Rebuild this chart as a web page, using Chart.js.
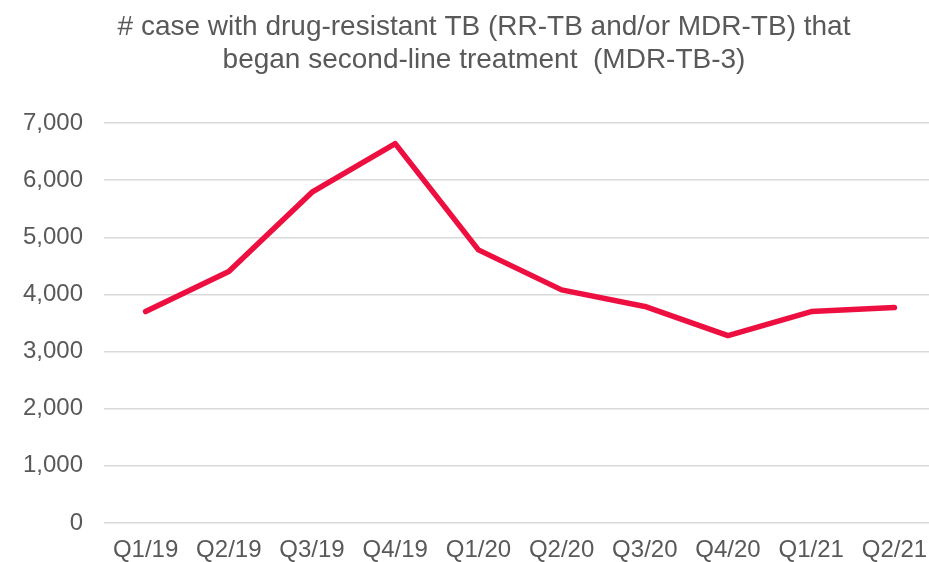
<!DOCTYPE html>
<html>
<head>
<meta charset="utf-8">
<script src="https://cdn.jsdelivr.net/npm/chart.js@4/dist/chart.umd.min.js"></script>
<style>
    html, body { margin: 0; padding: 0; background: #fff; overflow: hidden; }
    #wrap { width: 929px; height: 562px; overflow: hidden; }
</style>
</head>
<body>
<div id="wrap"><canvas id="chart" width="972" height="562"></canvas></div>
<script>
const quarters = ['Q1/19', 'Q2/19', 'Q3/19', 'Q4/19', 'Q1/20', 'Q2/20', 'Q3/20', 'Q4/20', 'Q1/21', 'Q2/21'];
const mdrCases = [3700, 4400, 5790, 6640, 4780, 4080, 3790, 3280, 3700, 3770];
const titleLines = ['# case with drug-resistant TB (RR-TB and/or MDR-TB) that', 'began second-line treatment  (MDR-TB-3)'];

const textColor = '#595959';
const fontFamily = '"Liberation Sans", Arial, sans-serif';

// title sits a bit right of the canvas centre in the original, so draw it by hand
const titlePlugin = {
    id: 'offsetTitle',
    afterDraw(chart) {
        const ctx = chart.ctx;
        ctx.save();
        ctx.fillStyle = textColor;
        ctx.font = `28px ${fontFamily}`;
        ctx.textAlign = 'center';
        ctx.textBaseline = 'middle';
        titleLines.forEach((line, i) => {
            ctx.fillText(line, 484, 27 + i * 33);
        });
        ctx.restore();
    }
};

new Chart(document.getElementById('chart'), {
    type: 'line',
    data: {
        labels: quarters,
        datasets: [{
            data: mdrCases,
            borderColor: '#EC0F40',
            borderWidth: 5.5,
            pointRadius: 0,
            tension: 0,
            borderCapStyle: 'round',
            borderJoinStyle: 'round'
        }]
    },
    plugins: [titlePlugin],
    options: {
        responsive: false,
        animation: false,
        // chart area runs 104..936, a bit past the window edge like the original
        layout: { padding: { left: 0, right: 36, top: 123, bottom: 0 } },
        plugins: {
            legend: { display: false },
            tooltip: { enabled: false },
            title: { display: false }
        },
        scales: {
            x: {
                offset: true,
                afterFit: (scale) => { scale.height = 39; },
                grid: { display: false },
                border: { display: false },
                ticks: {
                    color: textColor,
                    font: { family: fontFamily, size: 24 },
                    padding: 5,
                    maxRotation: 0,
                    autoSkip: false
                }
            },
            y: {
                min: 0,
                max: 7000,
                afterFit: (scale) => { scale.width = 104; },
                grid: { color: '#D9D9D9', lineWidth: 1.5, drawTicks: false },
                border: { display: false },
                ticks: {
                    stepSize: 1000,
                    color: textColor,
                    font: { family: fontFamily, size: 24 },
                    padding: 21,
                    callback: (value) => value.toLocaleString('en-US')
                }
            }
        }
    }
});
</script>
</body>
</html>
